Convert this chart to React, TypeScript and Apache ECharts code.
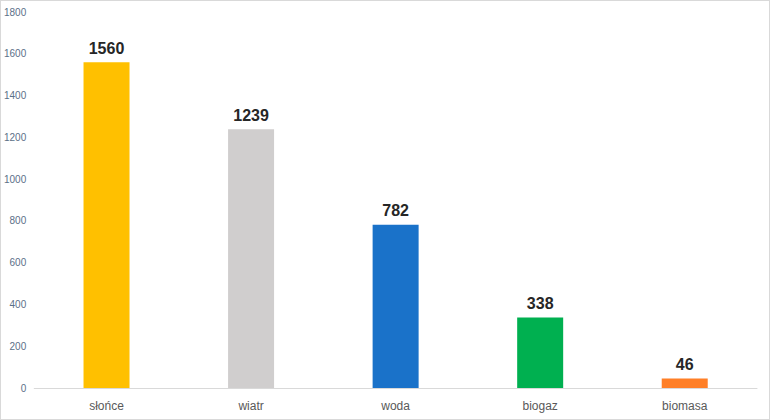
import React, { useEffect, useRef } from "react";
import * as echarts from "echarts";

const categories = ["słońce", "wiatr", "woda", "biogaz", "biomasa"];
const values = [1560, 1239, 782, 338, 46];
const colors = ["#FFC000", "#D0CECE", "#1A72C9", "#00B050", "#FF7F27"];

export default function App() {
  const ref = useRef<HTMLDivElement>(null);
  useEffect(() => {
    if (!ref.current) return;
    const chart = echarts.init(ref.current, null, { renderer: "svg" });
    chart.setOption({
      animation: false,
      backgroundColor: "#ffffff",
      grid: { left: 33, right: 12, top: 11, bottom: 31 },
      xAxis: {
        type: "category",
        data: categories,
        axisLine: { lineStyle: { color: "#d9d9d9", width: 1 } },
        axisTick: { show: false },
        axisLabel: {
          color: "#595959",
          fontSize: 12,
          fontFamily: "Liberation Sans, Arial, sans-serif",
          margin: 12,
        },
      },
      yAxis: {
        type: "value",
        min: 0,
        max: 1800,
        interval: 200,
        splitLine: { show: false },
        axisLine: { show: false },
        axisTick: { show: false },
        axisLabel: {
          color: "#5b7088",
          fontSize: 10,
          fontFamily: "Liberation Sans, Arial, sans-serif",
          margin: 8,
          formatter: (v: number) => String(v),
        },
      },
      series: [
        {
          type: "bar",
          barWidth: 46,
          data: values.map((v, i) => ({ value: v, itemStyle: { color: colors[i] } })),
          label: {
            show: true,
            position: "top",
            distance: 6,
            color: "#262626",
            fontSize: 16,
            fontWeight: "bold",
            fontFamily: "Liberation Sans, Arial, sans-serif",
          },
        },
      ],
    });
    return () => chart.dispose();
  }, []);
  return (
    <div
      style={{
        position: "fixed",
        left: 0,
        top: 0,
        width: 770,
        height: 420,
        border: "1px solid #d9d9d9",
        boxSizing: "border-box",
        background: "#fff",
      }}
    >
      <div ref={ref} style={{ width: 768, height: 418 }} />
    </div>
  );
}
